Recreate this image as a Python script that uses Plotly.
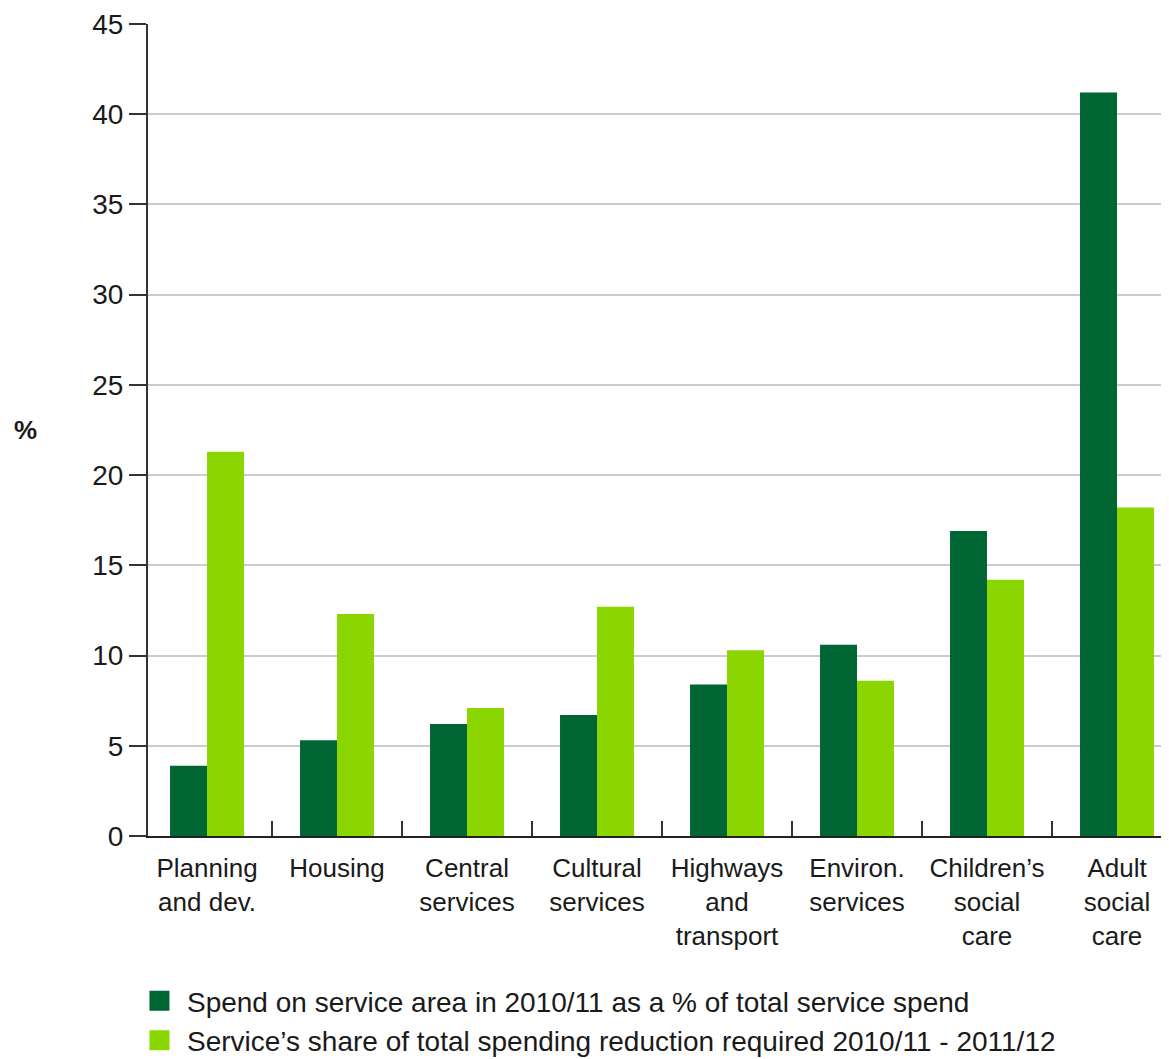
import plotly.graph_objects as go

categories = ["Planning<br>and dev.", "Housing", "Central<br>services", "Cultural<br>services",
              "Highways<br>and<br>transport", "Environ.<br>services", "Children’s<br>social<br>care",
              "Adult<br>social<br>care"]
spend_share = [3.9, 5.3, 6.2, 6.7, 8.4, 10.6, 16.9, 41.2]
reduction_share = [21.3, 12.3, 7.1, 12.7, 10.3, 8.6, 14.2, 18.2]
series_names = ["Spend on service area in 2010/11 as a % of total service spend",
                "Service’s share of total spending reduction required 2010/11 - 2011/12"]
colors = ["#006633", "#8BD600"]
y_ticks = [0, 5, 10, 15, 20, 25, 30, 35, 40, 45]

FONT = "Liberation Sans, Arial, Helvetica, sans-serif"

fig = go.Figure()
for vals, name, col in zip([spend_share, reduction_share], series_names, colors):
    fig.add_trace(go.Bar(x=categories, y=vals, name=name, marker=dict(color=col, line=dict(width=0)),
                         showlegend=False))
    # legend proxy (larger square symbol)
    fig.add_trace(go.Scatter(x=[None], y=[None], mode="markers", name=name,
                             marker=dict(symbol="square", size=16, color=col,
                                         line=dict(color=col, width=4)),
                             showlegend=True))

# page body has an 8px margin, so the figure is sized/offset to compensate
fig.update_layout(
    width=1161, height=1051,
    margin=dict(l=140, r=0, t=16, b=222.5, autoexpand=False),
    paper_bgcolor="white", plot_bgcolor="white",
    font=dict(family=FONT, size=26, color="#1a1a1a"),
    barmode="group", bargap=0.431, bargroupgap=0,
    showlegend=True,
    legend=dict(x=-0.0157, xanchor="left", y=-0.1725, yanchor="top", orientation="v",
                font=dict(size=28, family=FONT, color="#1a1a1a"), itemwidth=45,
                tracegroupgap=0, itemsizing="trace", bgcolor="rgba(0,0,0,0)"),
)
fig.update_xaxes(
    type="category", range=[-0.454, 7.400],
    showgrid=False, showline=True, linecolor="#222222", linewidth=2,
    ticks="inside", tickson="boundaries", ticklen=15, tickwidth=2, tickcolor="#333333",
    tickfont=dict(size=26, family=FONT, color="#1a1a1a"), ticklabelstandoff=8,
    zeroline=False,
)
fig.update_yaxes(
    range=[0, 45], tickvals=y_ticks,
    showgrid=True, gridcolor="#cccccc", gridwidth=2,
    showline=True, linecolor="#333333", linewidth=2,
    ticks="outside", ticklen=17, tickwidth=2, tickcolor="#333333",
    tickfont=dict(size=28, family=FONT, color="#1a1a1a"),
    zeroline=False,
)
fig.add_annotation(text="<b>%</b>", xref="paper", yref="paper", x=(25 - 148) / 1021,
                   y=(836.5 - 430) / 812.5, showarrow=False, xanchor="center", yanchor="middle",
                   font=dict(size=26, family=FONT, color="#1a1a1a"))

fig.write_html("out.html")
